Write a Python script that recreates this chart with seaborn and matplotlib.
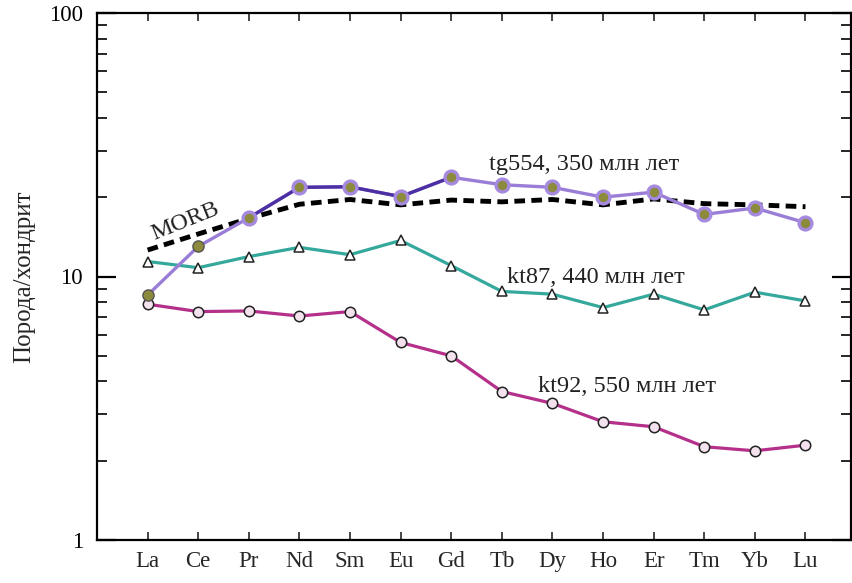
import numpy as np
import pandas as pd
import matplotlib
matplotlib.use("Agg")
import matplotlib.pyplot as plt
import seaborn as sns
from matplotlib.ticker import LogLocator, NullFormatter

elements = ["La", "Ce", "Pr", "Nd", "Sm", "Eu", "Gd", "Tb", "Dy", "Ho", "Er", "Tm", "Yb", "Lu"]
tg554 = [8.5, 13.0, 16.7, 21.8, 21.9, 20.1, 23.8, 22.3, 21.8, 20.0, 20.9, 17.2, 18.2, 16.0]
morb = [12.6, 14.5, 16.6, 18.8, 19.6, 18.7, 19.5, 19.2, 19.6, 18.7, 19.7, 18.9, 18.7, 18.4]
kt87 = [11.4, 10.8, 11.9, 12.9, 12.1, 13.7, 11.0, 8.78, 8.57, 7.62, 8.57, 7.47, 8.72, 8.08]
kt92 = [7.85, 7.36, 7.4, 7.08, 7.36, 5.62, 5.0, 3.66, 3.30, 2.81, 2.69, 2.26, 2.18, 2.29]
y_ticks = [1, 10, 100]
y_ticklabels = ["1", "10", "100"]

sns.set_style("ticks")
plt.rcParams["font.family"] = ["Liberation Serif", "DejaVu Serif"]

fig = plt.figure(figsize=(8.52, 5.83), dpi=100)
ax = fig.add_axes([97 / 852, 43 / 583, (851 - 97) / 852, (540 - 13) / 583])

xi = np.arange(len(elements))
df = pd.DataFrame({"x": xi, "tg554": tg554, "morb": morb, "kt87": kt87, "kt92": kt92})

light_purple = "#9a7dd6"
dark_purple = "#4b2fa3"
teal = "#35a89c"
magenta = "#b4308a"

# kt92
sns.lineplot(data=df, x="x", y="kt92", ax=ax, color=magenta, lw=2.3, sort=False,
             marker="o", markersize=7.5, markerfacecolor="#f3e2ee", markeredgecolor="#222222",
             markeredgewidth=1.1, zorder=3)
# kt87
sns.lineplot(data=df, x="x", y="kt87", ax=ax, color=teal, lw=2.3, sort=False,
             marker="^", markersize=7.5, markerfacecolor="white", markeredgecolor="#222222",
             markeredgewidth=1.1, zorder=3)
# MORB
sns.lineplot(data=df, x="x", y="morb", ax=ax, color="black", lw=3.5, sort=False,
             linestyle=(0, (2.2, 1.3)), zorder=4)
# tg554 full (light) then dark segment Pr..Gd
sns.lineplot(data=df, x="x", y="tg554", ax=ax, color=light_purple, lw=2.4, sort=False, zorder=5)
seg = df.iloc[2:7]
sns.lineplot(data=seg, x="x", y="tg554", ax=ax, color=dark_purple, lw=2.4, sort=False, zorder=5)
# tg554 markers
sns.scatterplot(data=df.iloc[2:], x="x", y="tg554", ax=ax, s=85, color="#8c8a3c",
                edgecolor="#a58ae0", linewidth=2.4, zorder=6)
sns.scatterplot(data=df.iloc[:2], x="x", y="tg554", ax=ax, s=65, color="#8c8a3c",
                edgecolor="#555555", linewidth=1.0, zorder=6)

ax.set_yscale("log")
ax.set_ylim(1, 100)
ax.set_xlim(-1.0, 13.9)

ax.set_xticks(xi)
ax.set_xticklabels(elements, fontsize=16.5)
ax.set_yticks(y_ticks)
ax.set_yticklabels(y_ticklabels, fontsize=16.5)
ax.yaxis.set_minor_locator(LogLocator(base=10, subs=np.arange(2, 10)))
ax.yaxis.set_minor_formatter(NullFormatter())
ax.tick_params(axis="y", which="major", direction="in", right=True,
               length=13.5, width=1.6, pad=10, colors="black")
ax.tick_params(axis="y", which="minor", direction="in", right=True, length=7.2, width=1.4)
ax.tick_params(axis="x", which="major", direction="in", top=True, length=6, width=1.2, pad=8)
for s in ax.spines.values():
    s.set_linewidth(1.6)
    s.set_color("black")

ax.set_xlabel("")
ax.set_ylabel("Порода/хондрит", fontsize=18, labelpad=10)

ax.text(0.75, 16.2, "MORB", fontsize=17.5, rotation=22, ha="center", va="center", color="#222222")
ax.text(8.62, 26.5, "tg554, 350 млн лет", fontsize=17.5, ha="center", va="center", color="#222222")
ax.text(8.85, 9.87, "kt87, 440 млн лет", fontsize=17.5, ha="center", va="center", color="#222222")
ax.text(9.47, 3.81, "kt92, 550 млн лет", fontsize=17.5, ha="center", va="center", color="#222222")

fig.savefig("out.png", dpi=100)
